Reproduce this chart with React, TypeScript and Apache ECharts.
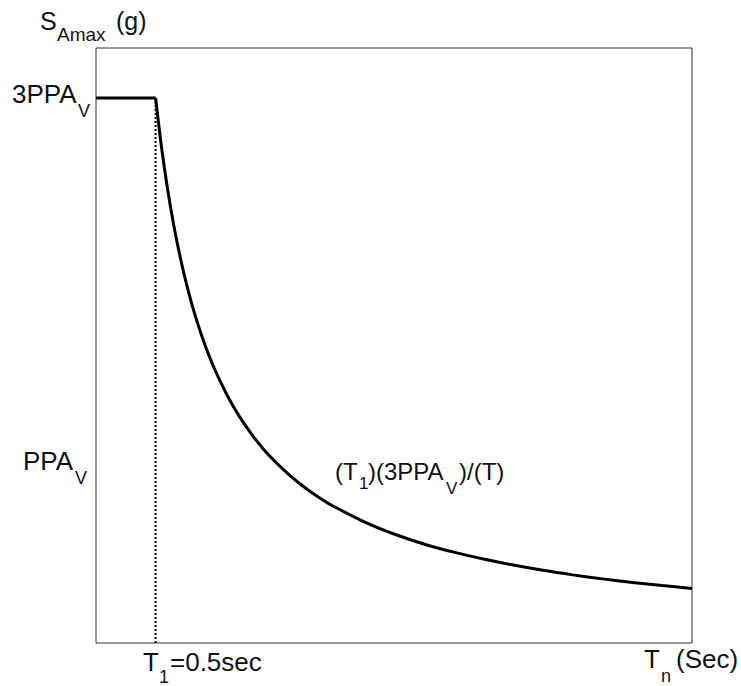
import React, { useEffect, useRef } from "react";
import * as echarts from "echarts";

// Period axis (sec) and spectral acceleration (in units of PPA_V)
const plateauPeriods = [0, 0.5];
const plateauValues = [3, 3];
const decayPeriods = [
  0.5, 0.55, 0.6, 0.65, 0.7, 0.75, 0.8, 0.85, 0.9, 0.95, 1.0,
  1.1, 1.2, 1.3, 1.4, 1.5, 1.6, 1.7, 1.8, 1.9, 2.0,
  2.25, 2.5, 2.75, 3.0, 3.25, 3.5, 3.75, 4.0, 4.25, 4.5, 4.75, 5.0,
];
const decayValues = [
  3.0, 2.727, 2.5, 2.308, 2.143, 2.0, 1.875, 1.765, 1.667, 1.579, 1.5,
  1.364, 1.25, 1.154, 1.071, 1.0, 0.938, 0.882, 0.833, 0.789, 0.75,
  0.667, 0.6, 0.545, 0.5, 0.462, 0.429, 0.4, 0.375, 0.353, 0.333, 0.316, 0.3,
];
const cornerPeriod = [0.5, 0.5];
const cornerValues = [0, 3];
const xRange = [0, 5];
const yRange = [0, 3.275];

const FONT = "'Liberation Sans', Arial, Helvetica, sans-serif";

function txt(text: string, x: number, baseline: number, size: number) {
  return {
    type: "text",
    x,
    y: baseline - 0.35 * size,
    silent: true,
    style: {
      text,
      fontSize: size,
      fontFamily: FONT,
      fill: "#111",
      align: "left",
      verticalAlign: "middle",
    },
  };
}

export default function App() {
  const ref = useRef<HTMLDivElement>(null);
  useEffect(() => {
    if (!ref.current) return;
    const chart = echarts.init(ref.current, undefined, { renderer: "svg" });
    const pair = (xs: number[], ys: number[]) => xs.map((x, i) => [x, ys[i]]);
    const hiddenAxis = {
      type: "value" as const,
      axisLine: { show: false },
      axisTick: { show: false },
      axisLabel: { show: false },
      splitLine: { show: false },
    };
    chart.setOption({
      animation: false,
      grid: {
        left: 96,
        right: 49,
        top: 48,
        bottom: 43,
        show: true,
        borderColor: "#333",
        borderWidth: 1,
        backgroundColor: "transparent",
      },
      xAxis: { ...hiddenAxis, min: xRange[0], max: xRange[1] },
      yAxis: { ...hiddenAxis, min: yRange[0], max: yRange[1] },
      series: [
        {
          type: "line",
          data: pair(cornerPeriod, cornerValues),
          symbol: "none",
          z: 1,
          lineStyle: { color: "#000", width: 2, type: [2, 2] },
        },
        {
          type: "line",
          data: pair(plateauPeriods, plateauValues),
          symbol: "none",
          z: 3,
          lineStyle: { color: "#000", width: 3 },
        },
        {
          type: "line",
          data: pair(decayPeriods, decayValues),
          symbol: "none",
          smooth: 0.3,
          z: 3,
          lineStyle: { color: "#000", width: 3 },
        },
      ],
      graphic: [
        txt("S", 40, 30, 25),
        txt("Amax", 57, 41, 19),
        txt("(g)", 116, 30, 25),
        txt("3PPA", 12, 103, 26),
        txt("V", 78, 117, 18),
        txt("PPA", 23, 470, 26),
        txt("V", 75, 484, 18),
        txt("T", 143, 671, 26),
        txt("1", 159, 683, 18),
        txt("=0.5sec", 170, 671, 26),
        txt("T", 644, 668, 26),
        txt("n", 661, 682, 18),
        txt("(Sec)", 676, 668, 26),
        txt("(T", 335, 480, 24),
        txt("1", 359, 489, 17),
        txt(")(3PPA", 368, 480, 24),
        txt("V", 446, 494, 17),
        txt(")/(T)", 459, 480, 24),
      ],
    });
    return () => chart.dispose();
  }, []);
  return (
    <div
      ref={ref}
      style={{ position: "fixed", left: 0, top: 0, width: 741, height: 686, background: "#fff" }}
    />
  );
}
